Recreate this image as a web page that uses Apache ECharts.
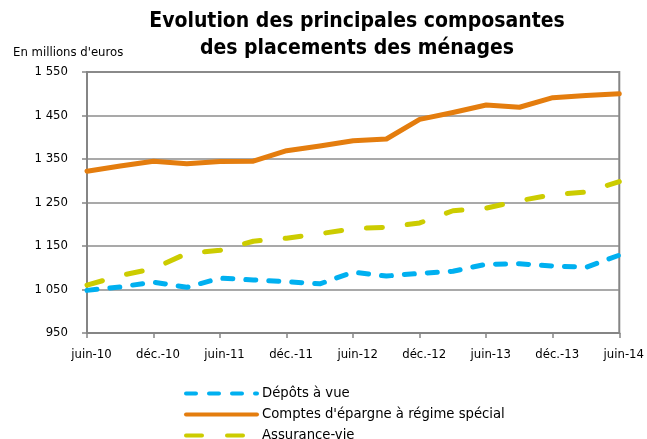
<!DOCTYPE html>
<html>
<head>
<meta charset="utf-8">
<script src="https://cdn.jsdelivr.net/npm/echarts@6/dist/echarts.min.js"></script>
<style>
  html, body { margin: 0; padding: 0; background: #fff; }
  #chart { width: 647px; height: 439px; }
</style>
</head>
<body>
<div id="chart"></div>
<script>
// trimestres juin-10 -> juin-14
const categories = [
  'juin-10', 'sept.-10', 'déc.-10', 'mars-11', 'juin-11', 'sept.-11', 'déc.-11', 'mars-12',
  'juin-12', 'sept.-12', 'déc.-12', 'mars-13', 'juin-13', 'sept.-13', 'déc.-13', 'mars-14', 'juin-14'
];
const depotsAVue = [1048, 1056, 1067, 1055, 1076, 1072, 1068, 1063, 1090, 1081, 1087, 1092, 1108, 1109, 1104, 1101, 1129];
const comptesEpargne = [1322, 1334, 1345, 1339, 1344, 1345, 1369, 1380, 1392, 1396, 1441, 1457, 1474, 1469, 1491, 1496, 1500];
const assuranceVie = [1060, 1082, 1098, 1133, 1140, 1161, 1168, 1178, 1190, 1193, 1203, 1231, 1237, 1254, 1268, 1274, 1298];

const FONT = "'DejaVu Sans Condensed', 'Liberation Sans Narrow', 'DejaVu Sans', sans-serif";

function fmt(v) {
  return String(v).replace(/\B(?=(\d{3})+(?!\d))/g, ' ');
}

let option = {
  animation: false,
  backgroundColor: '#fff',
  textStyle: { fontFamily: FONT },
  title: [{
    text: 'Evolution des principales composantes\ndes placements des ménages',
    left: 352,
    top: 3,
    textAlign: 'center',
    textStyle: { fontFamily: FONT, fontWeight: 'bold', fontSize: 21, lineHeight: 27, color: '#000' }
  }, {
    text: "En millions d'euros",
    left: 8,
    top: 41,
    textStyle: { fontFamily: FONT, fontWeight: 'normal', fontSize: 13, color: '#000' }
  }],
  legend: {
    orient: 'vertical',
    left: 184,
    top: 386,
    height: 80,
    padding: 0,
    itemWidth: 71,
    itemHeight: 15,
    itemGap: 6,
    itemStyle: { opacity: 0 },
    lineStyle: { width: 4, cap: 'round' },
    textStyle: { fontFamily: FONT, fontSize: 14.7, color: '#000' },
    data: ['Dépôts à vue', "Comptes d'épargne à régime spécial", 'Assurance-vie']
  },
  grid: {
    left: 87,
    right: 27,
    top: 72,
    bottom: 106,
    show: true,
    borderColor: '#858585',
    borderWidth: 2
  },
  xAxis: {
    type: 'category',
    data: categories,
    boundaryGap: false,
    axisLine: { lineStyle: { color: '#858585', width: 2 } },
    axisTick: { show: true, interval: 1, length: 5, lineStyle: { color: '#858585', width: 1.5 } },
    axisLabel: { interval: 1, margin: 15, padding: [0, 0, 0, 9], fontFamily: FONT, fontSize: 13, color: '#000' }
  },
  yAxis: {
    type: 'value',
    min: 950,
    max: 1550,
    interval: 100,
    axisLine: { show: true, lineStyle: { color: '#858585', width: 2 } },
    axisTick: { show: true, length: 5, lineStyle: { color: '#858585', width: 1.5 } },
    axisLabel: { margin: 19, fontFamily: FONT, fontSize: 13, color: '#000', formatter: fmt },
    splitLine: { lineStyle: { color: '#8c8c8c', width: 1.5 } }
  },
  series: [{
    name: 'Dépôts à vue',
    type: 'line',
    data: depotsAVue,
    symbol: 'none',
    color: '#00b0f0',
    lineStyle: { width: 5, type: [10, 13], cap: 'round', join: 'round' }
  }, {
    name: "Comptes d'épargne à régime spécial",
    type: 'line',
    data: comptesEpargne,
    symbol: 'none',
    color: '#e47d0e',
    lineStyle: { width: 5, type: 'solid', cap: 'round', join: 'round' }
  }, {
    name: 'Assurance-vie',
    type: 'line',
    data: assuranceVie,
    symbol: 'none',
    color: '#cccc00',
    lineStyle: { width: 5, type: [16, 25], cap: 'round', join: 'round' }
  }]
};

let chartDom = document.getElementById('chart');
let myChart = echarts.init(chartDom);
myChart.setOption(option);
</script>
</body>
</html>
